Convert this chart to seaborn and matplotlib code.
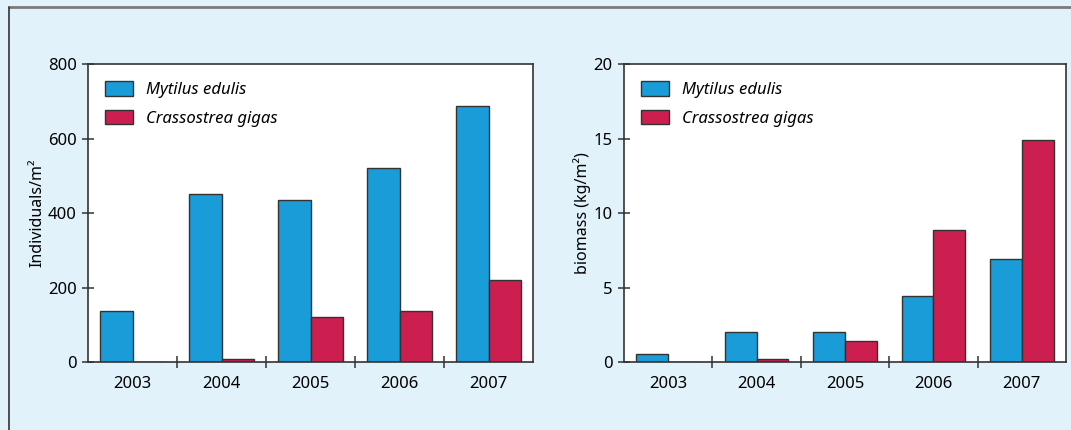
import pandas as pd
import matplotlib.pyplot as plt
import numpy as np
import seaborn as sns
from matplotlib.lines import Line2D
from matplotlib.ticker import FixedLocator

years = ['2003', '2004', '2005', '2006', '2007']
species = ['Mytilus edulis', 'Crassostrea gigas']

# individuals per m2
mytilus_ind = [137, 452, 434, 522, 688]
crasso_ind = [0, 7, 120, 137, 219]

# biomass kg/m2
mytilus_bio = [0.54, 2.0, 2.0, 4.45, 6.95]
crasso_bio = [0.0, 0.2, 1.42, 8.85, 14.9]

colors = ['#1a9cd8', '#cc1f50']
bg = '#e1f2fb'

sns.set_style('white')
plt.rcParams['font.family'] = ['Noto Sans', 'DejaVu Sans']
plt.rcParams['text.color'] = 'black'
plt.rcParams['axes.labelcolor'] = 'black'
plt.rcParams['xtick.color'] = 'black'
plt.rcParams['ytick.color'] = 'black'

dens = pd.DataFrame({'year': years * 2,
                     'species': [species[0]] * 5 + [species[1]] * 5,
                     'value': mytilus_ind + crasso_ind})
bio = pd.DataFrame({'year': years * 2,
                    'species': [species[0]] * 5 + [species[1]] * 5,
                    'value': mytilus_bio + crasso_bio})

fig = plt.figure(figsize=(10.71, 4.30), dpi=100, facecolor=bg)
ax1 = fig.add_axes([0.0822, 0.158, 0.4155, 0.693])
ax2 = fig.add_axes([0.5826, 0.158, 0.4127, 0.693])

panels = [(ax1, dens, 800, 200, 'Individuals/m²'),
          (ax2, bio, 20, 5, 'biomass (kg/m²)')]

for ax, df, top, step, lab in panels:
    sns.barplot(data=df, x='year', y='value', hue='species', ax=ax,
                palette=colors, width=0.72, edgecolor='#333333', linewidth=1,
                saturation=1, errorbar=None)
    ax.set_facecolor('white')
    ax.set_xlim(-0.5, 4.5)
    ax.set_ylim(0, top)
    ax.set_yticks(np.arange(0, top + 1, step))
    ax.set_xlabel('')
    ax.set_ylabel(lab, fontsize=11.5, labelpad=2, fontweight='medium')
    for s in ax.spines.values():
        s.set_color('#333333')
        s.set_linewidth(1.2)
    ax.xaxis.set_minor_locator(FixedLocator([0.5, 1.5, 2.5, 3.5]))
    ax.tick_params(axis='x', which='major', length=0, pad=10, labelsize=12)
    ax.tick_params(axis='x', which='minor', length=8, width=1.1,
                   direction='inout', color='#333333', bottom=True)
    ax.tick_params(axis='y', length=8, width=1.1, direction='inout',
                   color='#333333', labelsize=12, pad=4, left=True)
    for t in ax.get_xticklabels() + ax.get_yticklabels():
        t.set_fontweight('medium')
    leg = ax.legend(loc='upper left', frameon=False, fontsize=12,
                    handlelength=1.7, handleheight=1.0, labelspacing=0.7,
                    handletextpad=0.8, borderaxespad=0.6)
    for t in leg.get_texts():
        t.set_fontstyle('italic')

# panel frame
fig.add_artist(Line2D([0.0084, 1.0], [0.983, 0.983], color='#7a7a7a', lw=2,
                      transform=fig.transFigure))
fig.add_artist(Line2D([0.0084, 0.0084], [0.0, 0.983], color='#333333', lw=1.2,
                      transform=fig.transFigure))

fig.savefig('out.png', dpi=100, facecolor=bg)
